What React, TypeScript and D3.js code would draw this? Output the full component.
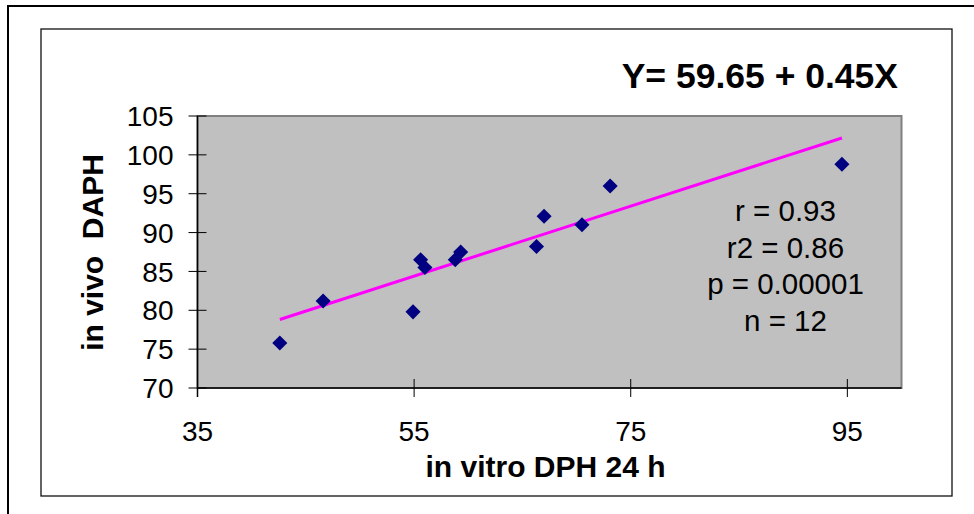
import React from "react";
import * as d3 from "d3";

// in vitro DPH 24 h (x) vs in vivo DAPH (y)
const inVitroDPH = [42.6, 46.6, 54.9, 55.6, 56.0, 58.8, 59.3, 66.3, 67.0, 70.5, 73.1, 94.5];
const inVivoDAPH = [75.8, 81.2, 79.8, 86.5, 85.5, 86.5, 87.5, 88.2, 92.1, 91.0, 96.0, 98.8];

const xTicks = [35, 55, 75, 95];
const yTicks = [70, 75, 80, 85, 90, 95, 100, 105];

const intercept = 59.65;
const slope = 0.45;
const equationLabel = "Y= 59.65 + 0.45X";
const statsLines = ["r = 0.93", "r2 = 0.86", "p = 0.00001", "n = 12"];

const W = 974;
const H = 514;
const plot = { left: 197.5, right: 901.5, top: 116, bottom: 388 };
const FONT = "Arial, 'Liberation Sans', Helvetica, sans-serif";

export default function App() {
  const x = d3.scaleLinear().domain([35, 100]).range([plot.left, plot.right]);
  const y = d3.scaleLinear().domain([70, 105]).range([plot.bottom, plot.top]);

  const points = inVitroDPH.map((v, i) => ({ x: v, y: inVivoDAPH[i] }));
  const [xMin, xMax] = d3.extent(inVitroDPH) as [number, number];
  const fit = d3
    .line<number>()
    .x((d) => x(d))
    .y((d) => y(intercept + slope * d))([xMin, xMax]);

  const diamond = d3.symbol().type(d3.symbolDiamond2).size(145)();

  return (
    <svg
      width={W}
      height={H}
      style={{ position: "absolute", left: 0, top: 0, background: "#fff" }}
      fontFamily={FONT}
    >
      {/* outer frame */}
      <line x1={8} y1={6} x2={W} y2={6} stroke="#000" strokeWidth={2} />
      <line x1={8} y1={5} x2={8} y2={H} stroke="#000" strokeWidth={2} />
      {/* chart area frame */}
      <rect x={41} y={29} width={911} height={467} fill="#fff" stroke="#111" strokeWidth={1.3} />

      {/* plot area */}
      <rect
        x={plot.left}
        y={plot.top}
        width={plot.right - plot.left}
        height={plot.bottom - plot.top}
        fill="#c0c0c0"
        stroke="#808080"
        strokeWidth={2}
      />

      {/* regression line */}
      <path d={fit ?? ""} fill="none" stroke="#ff00ff" strokeWidth={3} />

      {/* data points */}
      {points.map((p, i) => (
        <path key={i} d={diamond ?? ""} transform={`translate(${x(p.x)},${y(p.y)})`} fill="#000080" />
      ))}

      {/* y axis */}
      <line x1={plot.left} y1={plot.top} x2={plot.left} y2={plot.bottom + 9} stroke="#000" strokeWidth={1.5} />
      {yTicks.map((t) => (
        <g key={t}>
          <line x1={plot.left - 9} x2={plot.left + 9} y1={y(t)} y2={y(t)} stroke="#000" strokeWidth={1} />
          <text x={173.5} y={y(t)} dy="0.36em" textAnchor="end" fontSize={28} fill="#000">
            {t}
          </text>
        </g>
      ))}

      {/* x axis */}
      <line x1={plot.left} y1={plot.bottom} x2={plot.right} y2={plot.bottom} stroke="#000" strokeWidth={1.5} />
      {xTicks.map((t) => (
        <g key={t}>
          <line x1={x(t)} x2={x(t)} y1={plot.bottom - 9} y2={plot.bottom + 9} stroke="#000" strokeWidth={1} />
          <text x={x(t)} y={440.5} textAnchor="middle" fontSize={28} fill="#000">
            {t}
          </text>
        </g>
      ))}

      {/* axis titles */}
      <text x={545.5} y={477} textAnchor="middle" fontSize={30} fontWeight="bold" fill="#000">
        in vitro DPH 24 h
      </text>
      <text
        transform={`translate(103,252.5) rotate(-90)`}
        textAnchor="middle"
        fontSize={30}
        fontWeight="bold"
        fill="#000"
        style={{ whiteSpace: "pre" }}
      >
        {"in vivo  DAPH"}
      </text>

      {/* equation */}
      <text x={898} y={88} textAnchor="end" fontSize={35.5} fontWeight="bold" fill="#000">
        {equationLabel}
      </text>

      {/* statistics */}
      {statsLines.map((s, i) => (
        <text key={s} x={785.5} y={220.7 + i * 36.8} textAnchor="middle" fontSize={29.5} fill="#000">
          {s}
        </text>
      ))}
    </svg>
  );
}
